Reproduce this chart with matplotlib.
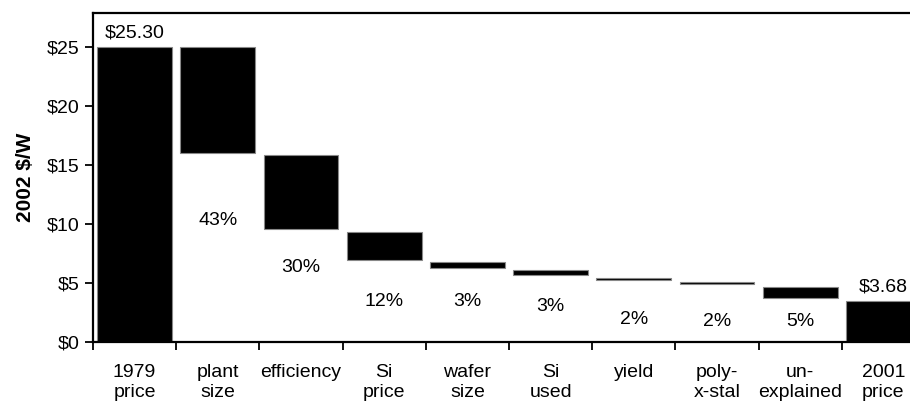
import matplotlib.pyplot as plt
import numpy as np

plt.rcParams['font.family'] = ['Liberation Sans', 'DejaVu Sans']

categories = ['1979\nprice', 'plant\nsize', 'efficiency', 'Si\nprice', 'wafer\nsize',
              'Si\nused', 'yield', 'poly-\nx-stal', 'un-\nexplained', '2001\nprice']
bar_top = [25.0, 25.0, 15.85, 9.35, 6.75, 6.1, 5.45, 5.1, 4.63, 3.5]
bar_bottom = [0.0, 16.0, 9.6, 6.95, 6.3, 5.7, 5.25, 4.9, 3.73, 0.0]
pct_labels = ['', '43%', '30%', '12%', '3%', '3%', '2%', '2%', '5%', '']
pct_y = [0, 10.3, 6.3, 3.4, 3.4, 3.0, 1.9, 1.7, 1.7, 0]
end_labels = {0: '$25.30', 9: '$3.68'}

fig = plt.figure(figsize=(9.1, 4.05), dpi=100)
ax = fig.add_axes([93 / 910, 1 - 342 / 405, 832 / 910, 329 / 405])

x = np.arange(len(categories))
heights = np.array(bar_top) - np.array(bar_bottom)
ax.bar(x, heights, bottom=bar_bottom, width=0.9, color='black',
       edgecolor='#888888', linewidth=0.8)

fs = 14
for i, t in enumerate(pct_labels):
    if t:
        ax.text(x[i], pct_y[i], t, ha='center', va='center', fontsize=fs)
for i, t in end_labels.items():
    ax.text(x[i], bar_top[i] + 0.45, t, ha='center', va='bottom', fontsize=fs)

ax.set_xlim(-0.5, len(categories) - 0.5)
ax.set_ylim(0, 27.9)
ax.set_yticks([0, 5, 10, 15, 20, 25])
ax.set_yticklabels(['$0', '$5', '$10', '$15', '$20', '$25'], fontsize=fs)
ax.set_xticks(x)
ax.set_xticklabels(categories, fontsize=fs, linespacing=1.2)
ax.tick_params(axis='x', which='major', length=0, pad=16)
ax.set_xticks(np.arange(-0.5, len(categories)), minor=True)
ax.tick_params(axis='x', which='minor', length=6, width=1.3, direction='out')
ax.tick_params(axis='y', length=6, width=1.3, direction='out', pad=4)
ax.set_ylabel('2002 $/W', fontsize=15, fontweight='bold', labelpad=8)

for s in ax.spines.values():
    s.set_linewidth(1.6)

plt.savefig('out.png', dpi=100)
